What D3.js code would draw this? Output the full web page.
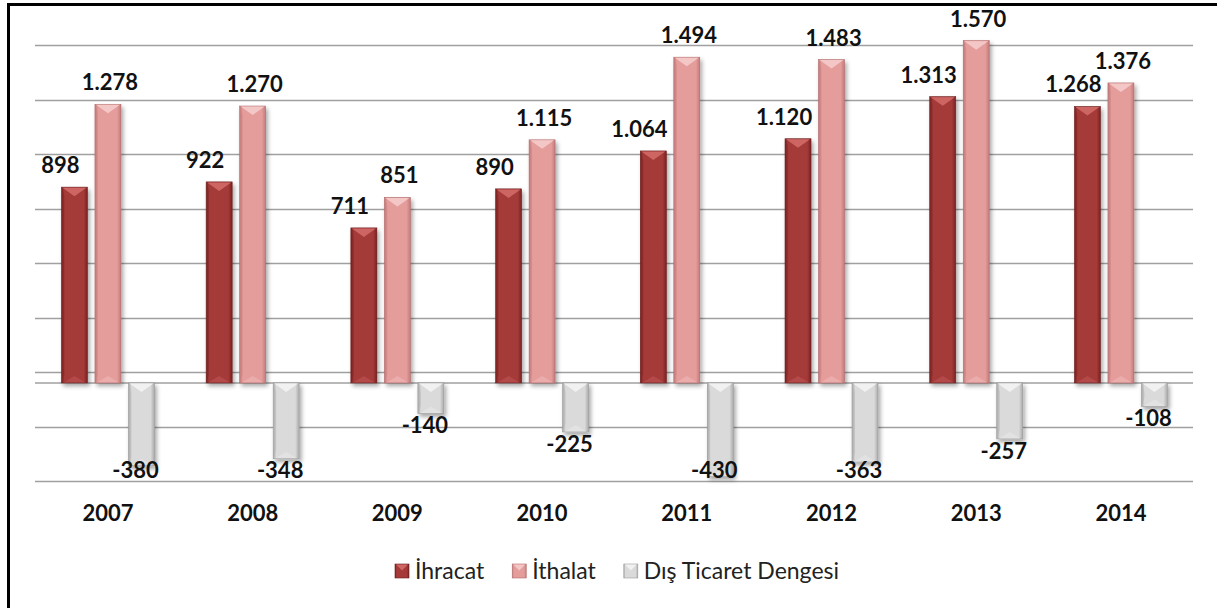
<!DOCTYPE html>
<html>
<head>
<meta charset="utf-8">
<script src="https://cdn.jsdelivr.net/npm/d3@7"></script>
<style>
  body { margin: 0; background: #fff; }
  svg { display: block; }
</style>
</head>
<body>
<div class="chart"></div>
<script>
// DATA ------------------------------
const years = ["2007", "2008", "2009", "2010", "2011", "2012", "2013", "2014"];
const ihracat = [898, 922, 711, 890, 1064, 1120, 1313, 1268];
const ithalat = [1278, 1270, 851, 1115, 1494, 1483, 1570, 1376];
const denge = [-380, -348, -140, -225, -430, -363, -257, -108];
const seriesNames = ["İhracat", "İthalat", "Dış Ticaret Dengesi"];
const gridValues = [-450, -200, 50, 300, 550, 800, 1050, 1300, 1550];

// CHART INIT ------------------------------
const W = 1217, H = 608;
const svg = d3.select(".chart").append("svg")
    .attr("width", W)
    .attr("height", H);

const fmt = d3.formatLocale({decimal: ",", thousands: ".", grouping: [3], currency: ["", ""], minus: "-"}).format(",d");

const colors = [
    {main: "#a53a39", edge: "#7a2222", light: "#d46e6c", shadow: "#6e1e1e"},
    {main: "#e59d9c", edge: "#c27a7a", light: "#f7cfcf", shadow: "#b36c6c"},
    {main: "#dadada", edge: "#ababab", light: "#f4f4f4", shadow: "#9a9a9a"}
];

const defs = svg.append("defs");
colors.forEach((c, i) => {
    const g = defs.append("linearGradient").attr("id", "grad" + i)
        .attr("x1", 0).attr("x2", 1).attr("y1", 0).attr("y2", 0);
    g.append("stop").attr("offset", "0%").attr("stop-color", c.edge);
    g.append("stop").attr("offset", "12%").attr("stop-color", c.main);
    g.append("stop").attr("offset", "85%").attr("stop-color", c.main);
    g.append("stop").attr("offset", "100%").attr("stop-color", c.edge);
});
const f = defs.append("filter").attr("id", "shadow")
    .attr("x", "-30%").attr("y", "-10%").attr("width", "160%").attr("height", "130%");
f.append("feDropShadow").attr("dx", 2).attr("dy", 3).attr("stdDeviation", 2.2)
    .attr("flood-color", "#000").attr("flood-opacity", 0.35);

// frame
svg.append("rect")
    .attr("x", 8.5).attr("y", 4.5)
    .attr("width", W).attr("height", H)
    .attr("fill", "none").attr("stroke", "#000").attr("stroke-width", 3);

const xScale = d3.scaleBand()
    .domain(years)
    .range([35.6, 1193.3]);
const bw = xScale.bandwidth();
const xInner = d3.scaleBand()
    .domain(d3.range(3))
    .range([(bw - 93) / 2, (bw + 93) / 2])
    .paddingInner(0.224);

const yScale = d3.scaleLinear()
    .domain([-450, 1550])
    .range([481, 45]);

// gridlines
svg.append("g").attr("class", "grid")
    .selectAll("line")
    .data(gridValues)
    .join("line")
    .attr("x1", 35).attr("x2", 1193)
    .attr("y1", d => Math.round(yScale(d)) + 0.5)
    .attr("y2", d => Math.round(yScale(d)) + 0.5)
    .attr("stroke", "#a0a0a0").attr("stroke-width", 1.5);
svg.append("line")
    .attr("x1", 35).attr("x2", 1193)
    .attr("y1", yScale(0)).attr("y2", yScale(0))
    .attr("stroke", "#a0a0a0").attr("stroke-width", 1.5);

// bars
const series = [ihracat, ithalat, denge];
const rows = [];
series.forEach((vals, s) => {
    vals.forEach((v, i) => rows.push({year: years[i], s: s, v: v}));
});

svg.append("g").attr("class", "bars")
    .selectAll("g")
    .data(rows)
    .join("g")
    .attr("filter", "url(#shadow)")
    .each(function (d) {
        const g = d3.select(this);
        const x0 = xScale(d.year) + xInner(d.s);
        const w = xInner.bandwidth();
        const x1 = x0 + w, xm = x0 + w / 2;
        const t = Math.min(yScale(0), yScale(d.v));
        const b = Math.max(yScale(0), yScale(d.v));
        const c = colors[d.s];
        const h = b - t;
        const bev = Math.min(9, h / 2);
        g.append("rect")
            .attr("x", x0).attr("y", t).attr("width", w).attr("height", h)
            .attr("fill", "url(#grad" + d.s + ")")
            .attr("stroke", c.shadow).attr("stroke-width", 0.6);
        // top bevel
        g.append("path")
            .attr("d", `M${x0 + 1},${t + 0.5}L${x1 - 1},${t + 0.5}L${xm},${t + bev}Z`)
            .attr("fill", c.light).attr("opacity", 0.85);
        g.append("path")
            .attr("d", `M${x0 + 0.5},${t + 0.5}L${x0 + 3},${t + bev}L${x0 + 3},${b - bev}L${x0 + 0.5},${b}Z`)
            .attr("fill", c.edge).attr("opacity", 0.35);
        // bottom bevel
        g.append("path")
            .attr("d", `M${x0 + 2},${b - 0.5}L${x1 - 2},${b - 0.5}L${xm},${b - Math.min(7, h / 3)}Z`)
            .attr("fill", c.light).attr("opacity", 0.3);
    });

// value labels
const labelDx = [-14, 2, -6];
svg.append("g").attr("class", "labels")
    .selectAll("text")
    .data(rows)
    .join("text")
    .attr("x", d => xScale(d.year) + xInner(d.s) + xInner.bandwidth() / 2 + labelDx[d.s])
    .attr("y", d => d.v >= 0 ? yScale(d.v) - 14 : Math.min(yScale(d.v) + 20, 478))
    .attr("text-anchor", "middle")
    .attr("font-family", "Lato, 'Open Sans', sans-serif")
    .attr("font-weight", "bold")
    .attr("font-size", 22)
    .attr("fill", "#111")
    .text(d => fmt(d.v));

// x axis labels
svg.append("g").attr("class", "x-axis")
    .selectAll("text")
    .data(years)
    .join("text")
    .attr("x", d => xScale(d) + bw / 2)
    .attr("y", 521)
    .attr("text-anchor", "middle")
    .attr("font-family", "Lato, 'Open Sans', sans-serif")
    .attr("font-weight", "bold")
    .attr("font-size", 22)
    .attr("fill", "#111")
    .text(d => d);

// legend
const legend = svg.append("g").attr("class", "legend");
let lx = 395;
seriesNames.forEach((name, i) => {
    const c = colors[i];
    legend.append("rect")
        .attr("x", lx).attr("y", 564).attr("width", 14).attr("height", 14)
        .attr("fill", "url(#grad" + i + ")").attr("stroke", c.shadow).attr("stroke-width", 0.6);
    legend.append("path")
        .attr("d", `M${lx + 1},${564.5}L${lx + 13},${564.5}L${lx + 7},${570.5}Z`)
        .attr("fill", c.light).attr("opacity", 0.85);
    const t = legend.append("text")
        .attr("x", lx + 20).attr("y", 579)
        .attr("font-family", "Lato, 'Open Sans', sans-serif")
        .attr("font-size", 23)
        .attr("fill", "#222")
        .text(name);
    lx += 20 + t.node().getComputedTextLength() + 28;
});
</script>
</body>
</html>
